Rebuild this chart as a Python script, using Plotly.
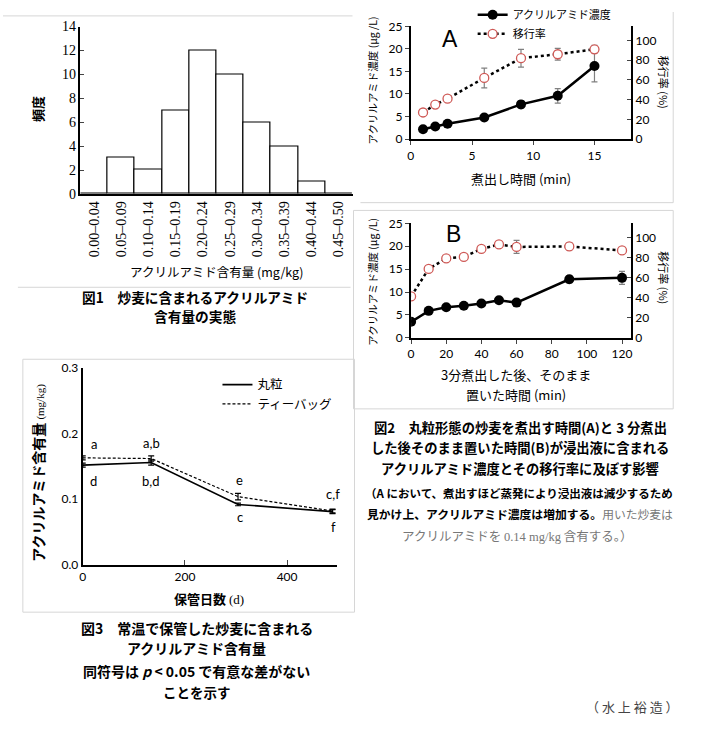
import plotly.graph_objects as go

W, H = 705, 733
def px(x): return x / W
def py(y): return 1 - y / H

JP = "Noto Sans CJK JP"
NUM = "Lato, Noto Sans CJK JP"
SERIF = "Liberation Serif"

# ---------------- data ----------------
hist_categories = ["0.00–0.04", "0.05–0.09", "0.10–0.14", "0.15–0.19", "0.20–0.24",
                   "0.25–0.29", "0.30–0.34", "0.35–0.39", "0.40–0.44", "0.45–0.50"]
hist_counts = [0, 3, 2, 7, 12, 10, 6, 4, 1, 0]

boil_time = [1, 2, 3, 6, 9, 12, 15]
boil_conc = [2.2, 2.8, 3.4, 4.8, 7.7, 9.6, 16.2]
boil_conc_err = [0.0, 0.0, 0.0, 0.4, 0.8, 1.6, 3.5]
boil_rate = [27, 35, 41, 62, 82, 86, 91]
boil_rate_err = [0, 0, 0, 10, 9, 6, 4]

stand_time = [0, 10, 20, 30, 40, 50, 60, 90, 120]
stand_conc = [3.5, 5.9, 6.7, 7.0, 7.5, 8.2, 7.7, 12.8, 13.1]
stand_conc_err = [0, 0, 0, 0, 0, 0, 0, 0.8, 1.4]
stand_rate = [41.5, 69, 79.5, 81, 89, 93.5, 91, 91.5, 87.5]
stand_rate_err = [0, 0, 0, 2, 0, 0, 6.5, 3.5, 0]

storage_days = [0, 134, 304, 489]
whole_content = [0.152, 0.156, 0.092, 0.081]
whole_err = [0.003, 0.004, 0.002, 0.003]
teabag_content = [0.163, 0.162, 0.104, 0.082]
teabag_err = [0.003, 0.004, 0.005, 0.003]

sig_labels = ["a", "d", "a,b", "b,d", "e", "c", "c,f", "f"]
sig_x = [22, 22, 134, 134, 307, 307, 490, 490]
sig_y = [0.184, 0.128, 0.186, 0.128, 0.130, 0.073, 0.108, 0.057]

RED = "#cf5a57"
GRAYERR = "#808080"

fig = go.Figure()

# ---------- Fig 1 histogram ----------
fig.add_trace(go.Bar(x=hist_categories, y=hist_counts, xaxis="x", yaxis="y",
                     marker=dict(color="white", line=dict(color="black", width=1.2)),
                     showlegend=False, hoverinfo="skip"))

# ---------- Fig 2A ----------
fig.add_trace(go.Scatter(x=boil_time, y=boil_rate, xaxis="x2", yaxis="y3",
                         mode="lines+markers", name="移行率",
                         line=dict(color="black", width=2.5, dash="dot"),
                         marker=dict(symbol="circle", size=9, color="white",
                                     line=dict(color=RED, width=1.3)),
                         error_y=dict(type="data", array=boil_rate_err, color=GRAYERR,
                                      thickness=1.2, width=3),
                         legendrank=2))
fig.add_trace(go.Scatter(x=boil_time, y=boil_conc, xaxis="x2", yaxis="y2",
                         mode="lines+markers", name="アクリルアミド濃度",
                         line=dict(color="black", width=2.5),
                         marker=dict(symbol="circle", size=10, color="black"),
                         error_y=dict(type="data", array=boil_conc_err, color=GRAYERR,
                                      thickness=1.2, width=3),
                         legendrank=1))

# ---------- Fig 2B ----------
fig.add_trace(go.Scatter(x=stand_time, y=stand_rate, xaxis="x3", yaxis="y5",
                         mode="lines+markers", showlegend=False,
                         line=dict(color="black", width=2.5, dash="dot"),
                         marker=dict(symbol="circle", size=9, color="white",
                                     line=dict(color=RED, width=1.3)),
                         error_y=dict(type="data", array=stand_rate_err, color=GRAYERR,
                                      thickness=1.2, width=3)))
fig.add_trace(go.Scatter(x=stand_time, y=stand_conc, xaxis="x3", yaxis="y4",
                         mode="lines+markers", showlegend=False,
                         line=dict(color="black", width=2.5),
                         marker=dict(symbol="circle", size=10, color="black"),
                         error_y=dict(type="data", array=stand_conc_err, color=GRAYERR,
                                      thickness=1.2, width=3)))

# ---------- Fig 3 ----------
fig.add_trace(go.Scatter(x=storage_days, y=whole_content, xaxis="x4", yaxis="y6",
                         mode="lines", name="丸粒", legend="legend2",
                         line=dict(color="black", width=1.6),
                         error_y=dict(type="data", array=whole_err, color="black",
                                      thickness=1.2, width=3)))
fig.add_trace(go.Scatter(x=storage_days, y=teabag_content, xaxis="x4", yaxis="y6",
                         mode="lines", name="ティーバッグ", legend="legend2",
                         line=dict(color="black", width=1.2, dash="3px,2px"),
                         error_y=dict(type="data", array=teabag_err, color="black",
                                      thickness=1.2, width=3)))

ax_common = dict(showgrid=False, zeroline=False, showline=True, linecolor="black")

fig.update_layout(
    width=W, height=H, margin=dict(l=0, r=0, t=0, b=0),
    paper_bgcolor="white", plot_bgcolor="white", bargap=0,
    font=dict(family=JP, color="black"),
    xaxis=dict(domain=[px(78), px(352)], anchor="y", type="category",
               range=[-0.5, 9.5], tickangle=-90, ticks="",
               tickfont=dict(family=SERIF, size=14), linewidth=1.5, **ax_common),
    yaxis=dict(domain=[py(187), py(15)], anchor="x", range=[0, 14], dtick=2,
               ticks="inside", ticklen=4, tickfont=dict(family=SERIF, size=14),
               linewidth=1.5, **ax_common),
    xaxis2=dict(domain=[px(410.7), px(632.7)], anchor="y2", range=[0, 18],
                tickvals=[0, 5, 10, 15], ticks="outside", ticklen=4,
                tickfont=dict(family=NUM, size=12), linewidth=2, **ax_common),
    yaxis2=dict(domain=[py(130.7), py(14.7)], anchor="x2", range=[0, 25], dtick=5,
                ticks="outside", ticklen=4, tickfont=dict(family=NUM, size=12),
                linewidth=2, **ax_common),
    yaxis3=dict(overlaying="y2", anchor="x2", side="right", range=[0, 114.3],
                tickvals=[0, 20, 40, 60, 80, 100], ticks="inside", ticklen=4,
                tickfont=dict(family=NUM, size=12), linewidth=2, **ax_common),
    xaxis3=dict(domain=[px(411), px(632.3)], anchor="y4", range=[0, 125],
                tickvals=[0, 20, 40, 60, 80, 100, 120], ticks="outside", ticklen=4,
                tickfont=dict(family=NUM, size=12), linewidth=2, **ax_common),
    yaxis4=dict(domain=[py(335), py(217.3)], anchor="x3", range=[0, 25], dtick=5,
                ticks="outside", ticklen=4, tickfont=dict(family=NUM, size=12),
                linewidth=2, **ax_common),
    yaxis5=dict(overlaying="y4", anchor="x3", side="right", range=[0, 114.6],
                tickvals=[0, 20, 40, 60, 80, 100], ticks="inside", ticklen=4,
                tickfont=dict(family=NUM, size=12), linewidth=2, **ax_common),
    xaxis4=dict(domain=[px(80.3), px(336)], anchor="y6", range=[0, 497],
                tickvals=[0, 200, 400], ticks="inside", ticklen=5,
                tickfont=dict(family=NUM, size=12), linewidth=2, **ax_common),
    yaxis6=dict(domain=[py(568.3), py(366)], anchor="x4", range=[0, 0.3],
                tickvals=[0, 0.1, 0.2, 0.3], tickformat=".1f", ticks="",
                tickfont=dict(family=NUM, size=12), linewidth=2, **ax_common),
    legend=dict(x=px(473), y=py(-12), xanchor="left", yanchor="top",
                bgcolor="rgba(0,0,0,0)", font=dict(family=JP, size=11),
                tracegroupgap=0, traceorder="normal"),
    legend2=dict(x=px(216), y=py(368), xanchor="left", yanchor="top",
                 bgcolor="rgba(0,0,0,0)", font=dict(family=JP, size=12.5),
                 tracegroupgap=0, traceorder="normal"),
)

anns = []
def ann(text, x, y, size=13, angle=0, color="black", family=JP, xanchor="center",
        weight="normal"):
    anns.append(dict(text=text, x=px(x), y=py(y),
                     xref="paper", yref="paper", showarrow=False, textangle=angle,
                     font=dict(size=size, color=color, family=family, weight=weight),
                     xanchor=xanchor, yanchor="middle"))

B = "bold"
# Fig1 texts
ann("頻度", 35, 100, 13, angle=-90, weight=B)
ann("アクリルアミド含有量 (mg/kg)", 215, 267, 12.5)
ann("図1　炒麦に含まれるアクリルアミド", 193, 293, 13.7, weight=B)
ann("含有量の実態", 193, 313, 13.7, weight=B)

# Fig2A texts
ann("A", 450, 28, 23, family="Liberation Sans")
ann("アクリルアミド濃度 (μg /L)", 372, 70, 10.5, angle=-90)
ann("移行率 (%)", 666, 72, 11, angle=90)
ann("煮出し時間 (min)", 522, 171, 13)

# Fig2B texts
ann("B", 454, 228, 23, family="Liberation Sans")
ann("アクリルアミド濃度 (μg /L)", 372, 277, 10.5, angle=-90)
ann("移行率 (%)", 666, 273, 11, angle=90)
ann("3分煮出した後、そのまま", 517, 373, 13)
ann("置いた時間 (min)", 517, 393, 13)

# Fig2 caption
ann("図2　丸粒形態の炒麦を煮出す時間(A)と 3 分煮出", 521, 427, 13.3, weight=B)
ann("した後そのまま置いた時間(B)が浸出液に含まれる", 521, 448, 13.3, weight=B)
ann("アクリルアミド濃度とその移行率に及ぼす影響", 521, 469, 13.3, weight=B)
ann("（A において、煮出すほど蒸発により浸出液は減少するため", 363, 494, 11.5,
    xanchor="left", weight=B)
ann("見かけ上、アクリルアミド濃度は増加する。<span style='color:#777;font-weight:normal'>用いた炒麦は</span>",
    365, 516, 11.8, xanchor="left", weight=B)
ann("アクリルアミドを <span style='font-family:Liberation Serif'>0.14 mg/kg</span> 含有する。）",
    518, 538, 12.5, color="#777")

# Fig3 texts
ann("アクリルアミド含有量 <span style='font-family:Liberation Serif;font-size:11px;font-weight:normal'>(mg/kg)</span>",
    35, 474, 14, angle=-90, weight=B)
ann("保管日数 <span style='font-family:Liberation Serif;font-weight:normal'>(d)</span>", 207, 603, 13, weight=B)
for t, xx, yy in zip(sig_labels, sig_x, sig_y):
    anns.append(dict(text=t, x=xx, y=yy, xref="x4", yref="y6", showarrow=False,
                     font=dict(size=13, family=NUM, color="black"),
                     xanchor="center", yanchor="middle"))
ann("図3　常温で保管した炒麦に含まれる", 195, 633, 14, weight=B)
ann("アクリルアミド含有量", 195, 654, 14, weight=B)
ann("同符号は <i>p</i> &lt; 0.05 で有意な差がない", 195, 677, 14, weight=B)
ann("ことを示す", 195, 699, 13.5, weight=B)

ann("（ 水 上 裕 造 ）", 634, 714, 13, color="#444")

fig.update_layout(annotations=anns)

# decorative frame borders (light gray)
GL = dict(color="#d6d6d6", width=1)
shapes = [
    dict(type="line", x0=px(0), x1=px(352), y0=py(4), y1=py(4)),
    dict(type="line", x0=px(15), x1=px(350), y0=py(283), y1=py(283)),
    dict(type="line", x0=px(360), x1=px(675), y0=py(196), y1=py(196)),
    dict(type="line", x0=px(675), x1=px(675), y0=py(0), y1=py(196)),
    dict(type="rect", x0=px(353), x1=px(675), y0=py(408), y1=py(204)),
    dict(type="rect", x0=px(20), x1=px(354), y0=py(617), y1=py(357)),
]
for s in shapes:
    s.update(xref="paper", yref="paper", line=GL, layer="below")
fig.update_layout(shapes=shapes)

fig.write_html("out.html")
